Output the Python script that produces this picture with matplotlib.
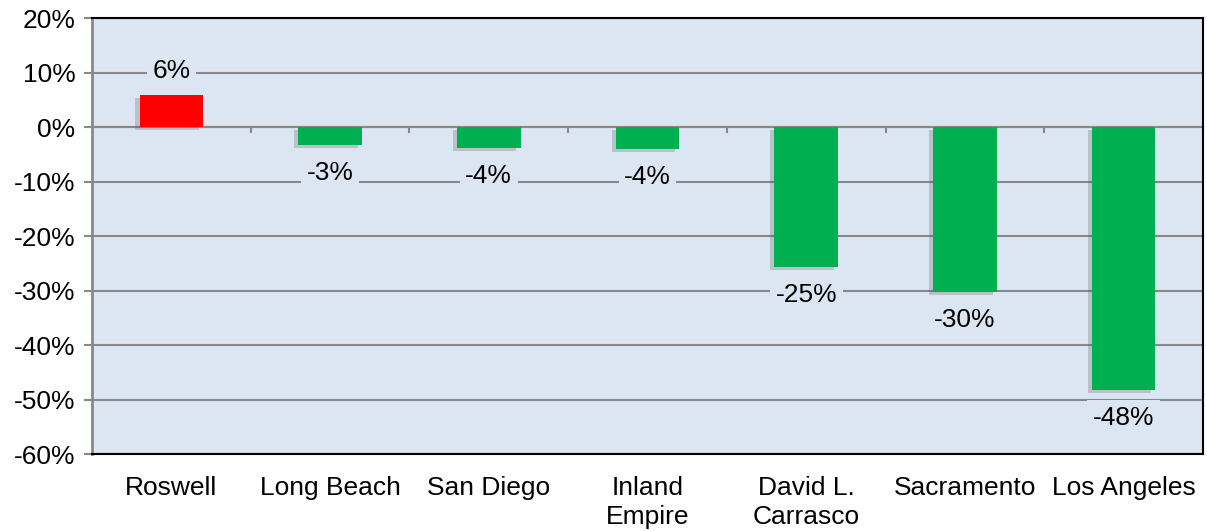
import matplotlib.pyplot as plt
import matplotlib.patheffects as pe
from matplotlib.ticker import FixedLocator, FuncFormatter

cities = ['Roswell', 'Long Beach', 'San Diego', 'Inland\nEmpire',
          'David L.\nCarrasco', 'Sacramento', 'Los Angeles']
change = [5.9, -3.3, -3.9, -4.0, -25.7, -30.3, -48.3]
labels = ['6%', '-3%', '-4%', '-4%', '-25%', '-30%', '-48%']

plt.rcParams['font.family'] = ['Liberation Sans', 'DejaVu Sans']
bg = '#DCE6F2'
grid = '#888888'

fig = plt.figure(figsize=(12.07, 5.31), dpi=100)
ax = fig.add_axes([0.0762, 0.145, 0.9205, 0.821])
ax.set_facecolor(bg)

x = range(len(cities))
colors = ['#FF0000' if v > 0 else '#00B050' for v in change]
bars = ax.bar(x, change, width=0.4, color=colors, zorder=3)
for b in bars:
    b.set_path_effects([pe.SimplePatchShadow(offset=(-3, -2), shadow_rgbFace='#555555', alpha=0.25),
                        pe.Normal()])

ax.set_ylim(-60, 20)
ax.set_xlim(-0.5, len(cities) - 0.5)
ax.yaxis.set_major_locator(FixedLocator(range(-60, 21, 10)))
ax.yaxis.set_major_formatter(FuncFormatter(lambda v, p: f'{int(v)}%'))
ax.grid(axis='y', color=grid, linewidth=1.5, zorder=0)
ax.tick_params(axis='y', labelsize=19, length=6, width=1.5, color=grid, pad=6)

ax.set_xticks(list(x))
ax.set_xticklabels(cities, fontsize=19, va='top', linespacing=1.25)
ax.tick_params(axis='x', length=0, pad=16)

# category axis at zero with tick marks between categories
ax.axhline(0, color=grid, linewidth=1.5, zorder=2)
for i in range(1, len(cities)):
    ax.plot([i - 0.5, i - 0.5], [0, -0.9], color=grid, linewidth=1.5, zorder=2)

for s in ['top', 'right', 'bottom']:
    ax.spines[s].set_color('black')
    ax.spines[s].set_linewidth(1.5)
ax.spines['left'].set_color(grid)
ax.spines['left'].set_linewidth(2)

for i, (v, t) in enumerate(zip(change, labels)):
    off = 17 if v > 0 else -20
    ax.annotate(t, (i, v), xytext=(0, off), textcoords='offset points',
                ha='center', va='center', fontsize=19, zorder=4,
                bbox=dict(facecolor=bg, edgecolor='none', pad=4))

fig.savefig('out.png', dpi=100)
